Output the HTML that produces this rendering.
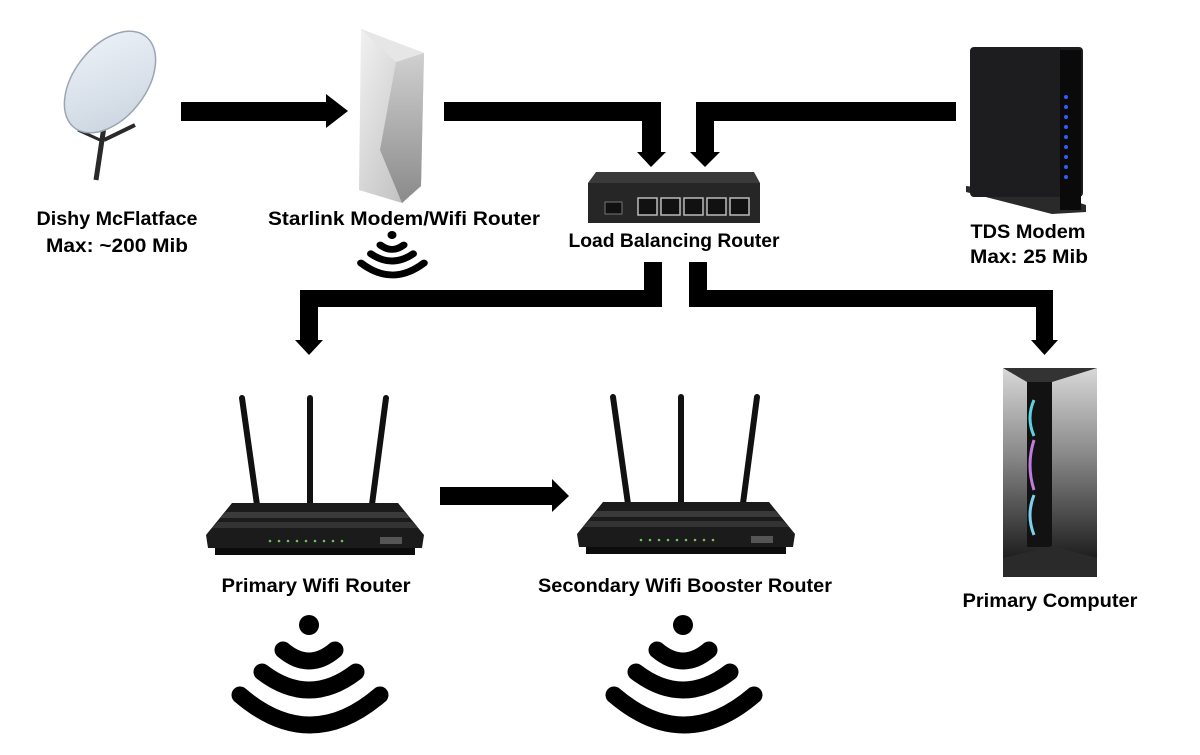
<!DOCTYPE html>
<html><head><meta charset="utf-8"><style>
html,body{margin:0;padding:0;background:#fff;width:1200px;height:755px;overflow:hidden}
svg{display:block}
text{font-family:"Liberation Sans",sans-serif;font-weight:bold;font-size:19px;fill:#000}
</style></head><body>
<svg width="1200" height="755" viewBox="0 0 1200 755" xmlns="http://www.w3.org/2000/svg">
<defs>
<linearGradient id="wedge" x1="0" y1="0" x2="1" y2="1"><stop offset="0" stop-color="#f2f2f2"/><stop offset="1" stop-color="#b8b8b8"/></linearGradient>
<linearGradient id="wedge2" x1="0" y1="0" x2="0" y2="1"><stop offset="0" stop-color="#d0d0d0"/><stop offset="1" stop-color="#8a8a8a"/></linearGradient>
<linearGradient id="pc" x1="0" y1="0" x2="0" y2="1"><stop offset="0" stop-color="#d8d8d8"/><stop offset="0.45" stop-color="#8a8a8a"/><stop offset="1" stop-color="#1e1e1e"/></linearGradient>
<linearGradient id="dish" x1="0" y1="0" x2="1" y2="1"><stop offset="0" stop-color="#eef3f9"/><stop offset="1" stop-color="#c9d3de"/></linearGradient>
<g id="wifi">
<circle cx="309" cy="625" r="10" fill="#000"/>
<g fill="none" stroke="#000" stroke-width="17" stroke-linecap="round">
<path d="M283 650 Q309 672 335 650"/>
<path d="M262 672 Q309 708 356 672"/>
<path d="M240 695 Q310 755 380 695"/>
</g></g>
<g id="router">
<line x1="242" y1="398" x2="258" y2="512" stroke="#111" stroke-width="6" stroke-linecap="round"/>
<line x1="310" y1="398" x2="310" y2="512" stroke="#111" stroke-width="6" stroke-linecap="round"/>
<line x1="386" y1="398" x2="371" y2="512" stroke="#111" stroke-width="6" stroke-linecap="round"/>
<polygon points="232,503 398,503 424,535 422,548 208,548 206,535" fill="#1b1b1b"/>
<polygon points="226,512 404,512 410,518 220,518" fill="#3a3a3a"/>
<polygon points="218,522 412,522 418,528 212,528" fill="#333"/>
<rect x="215" y="548" width="200" height="7" fill="#0c0c0c"/>
<g fill="#6fbf5a"><circle cx="270" cy="541" r="1.3"/><circle cx="279" cy="541" r="1.3"/><circle cx="288" cy="541" r="1.3"/><circle cx="297" cy="541" r="1.3"/><circle cx="306" cy="541" r="1.3"/><circle cx="315" cy="541" r="1.3"/><circle cx="324" cy="541" r="1.3"/><circle cx="333" cy="541" r="1.3"/><circle cx="342" cy="541" r="1.3"/></g>
<rect x="380" y="537" width="22" height="7" fill="#555"/>
</g>
</defs>

<g fill="#000">
<rect x="181" y="102" width="147" height="19"/>
<polygon points="326,94 348,111 326,128"/>
<polygon points="444,102 661,102 661,152 642,152 642,121 444,121"/>
<polygon points="637,152 666,152 651,167"/>
<polygon points="956,102 696,102 696,152 714,152 714,121 956,121"/>
<polygon points="690,152 720,152 705,167"/>
<polygon points="644,262 662,262 662,307 318,307 318,340 300,340 300,290 644,290"/>
<polygon points="295,340 323,340 309,355"/>
<polygon points="689,262 707,262 707,290 1053,290 1053,340 1036,340 1036,307 689,307"/>
<polygon points="1031,340 1058,340 1044.5,355"/>
<rect x="440" y="487" width="114" height="18"/>
<polygon points="552,479 569,496 552,512"/>
</g>

<g>
<line x1="105" y1="120" x2="96" y2="180" stroke="#2a2a2a" stroke-width="5"/>
<line x1="104" y1="140" x2="135" y2="125" stroke="#2a2a2a" stroke-width="4"/>
<line x1="100" y1="140" x2="78" y2="130" stroke="#2a2a2a" stroke-width="3"/>
<ellipse cx="110" cy="82" rx="36" ry="58" transform="rotate(38 110 82)" fill="url(#dish)" stroke="#9aa6b3" stroke-width="1.5"/>
</g>

<polygon points="361,29 424,53 421,186 402,203 359,190" fill="url(#wedge)"/>
<polygon points="424,53 396,62 380,150 402,203 421,186" fill="url(#wedge2)"/>
<polygon points="361,29 424,53 396,62" fill="#e6e6e6"/>

<polygon points="596,172 754,172 760,183 588,183" fill="#3a3a3a"/>
<rect x="588" y="183" width="172" height="40" fill="#262626"/>
<rect x="605" y="202" width="17" height="12" fill="#111" stroke="#777" stroke-width="1"/>
<g fill="#111" stroke="#bbb" stroke-width="1.5">
<rect x="638" y="198" width="19" height="17"/><rect x="661" y="198" width="19" height="17"/><rect x="684" y="198" width="19" height="17"/><rect x="707" y="198" width="19" height="17"/><rect x="730" y="198" width="19" height="17"/>
</g>

<!-- TDS modem -->
<polygon points="966,186 1060,196 1086,205 1086,212 1052,214 966,192" fill="#2a2a2a"/>
<rect x="970" y="47" width="113" height="150" rx="4" fill="#1d1d1f"/>
<rect x="1060" y="50" width="21" height="160" fill="#0a0a0a"/>
<g fill="#2e5cff"><circle cx="1066" cy="97" r="2"/><circle cx="1066" cy="107" r="2"/><circle cx="1066" cy="117" r="2"/><circle cx="1066" cy="127" r="2"/><circle cx="1066" cy="137" r="2"/><circle cx="1066" cy="147" r="2"/><circle cx="1066" cy="157" r="2"/><circle cx="1066" cy="167" r="2"/><circle cx="1066" cy="177" r="2"/></g>

<use href="#router"/>
<use href="#router" transform="translate(371 -1)"/>

<rect x="1003" y="368" width="94" height="190" fill="url(#pc)"/>
<rect x="1027" y="382" width="25" height="165" fill="#121212"/>
<polygon points="1003,368 1097,368 1052,382 1027,382" fill="#333"/>
<g fill="none" stroke-width="3">
<path d="M1034 400 Q1026 418 1034 436" stroke="#5fd0e0"/>
<path d="M1034 440 Q1026 465 1034 490" stroke="#c07be0"/>
<path d="M1034 495 Q1026 515 1034 535" stroke="#7bd0f0"/>
</g>
<polygon points="1003,558 1052,546 1097,558 1097,577 1003,577" fill="#2a2a2a"/>

<use href="#wifi"/>
<use href="#wifi" transform="translate(374 0)"/>
<use href="#wifi" transform="translate(392 235) scale(0.45 0.4) translate(-309 -625)"/>

<text x="117" y="225" text-anchor="middle" textLength="161" lengthAdjust="spacingAndGlyphs">Dishy McFlatface</text>
<text x="117" y="252" text-anchor="middle" textLength="142" lengthAdjust="spacingAndGlyphs">Max: ~200 Mib</text>
<text x="404" y="225" text-anchor="middle" textLength="272" lengthAdjust="spacingAndGlyphs">Starlink Modem/Wifi Router</text>
<text x="674" y="247" text-anchor="middle" textLength="211" lengthAdjust="spacingAndGlyphs">Load Balancing Router</text>
<text x="1028" y="238" text-anchor="middle" textLength="115" lengthAdjust="spacingAndGlyphs">TDS Modem</text>
<text x="1029" y="263" text-anchor="middle" textLength="118" lengthAdjust="spacingAndGlyphs">Max: 25 Mib</text>
<text x="316" y="592" text-anchor="middle" textLength="189" lengthAdjust="spacingAndGlyphs">Primary Wifi Router</text>
<text x="685" y="592" text-anchor="middle" textLength="294" lengthAdjust="spacingAndGlyphs">Secondary Wifi Booster Router</text>
<text x="1050" y="607" text-anchor="middle" textLength="175" lengthAdjust="spacingAndGlyphs">Primary Computer</text>
</svg>
</body></html>
